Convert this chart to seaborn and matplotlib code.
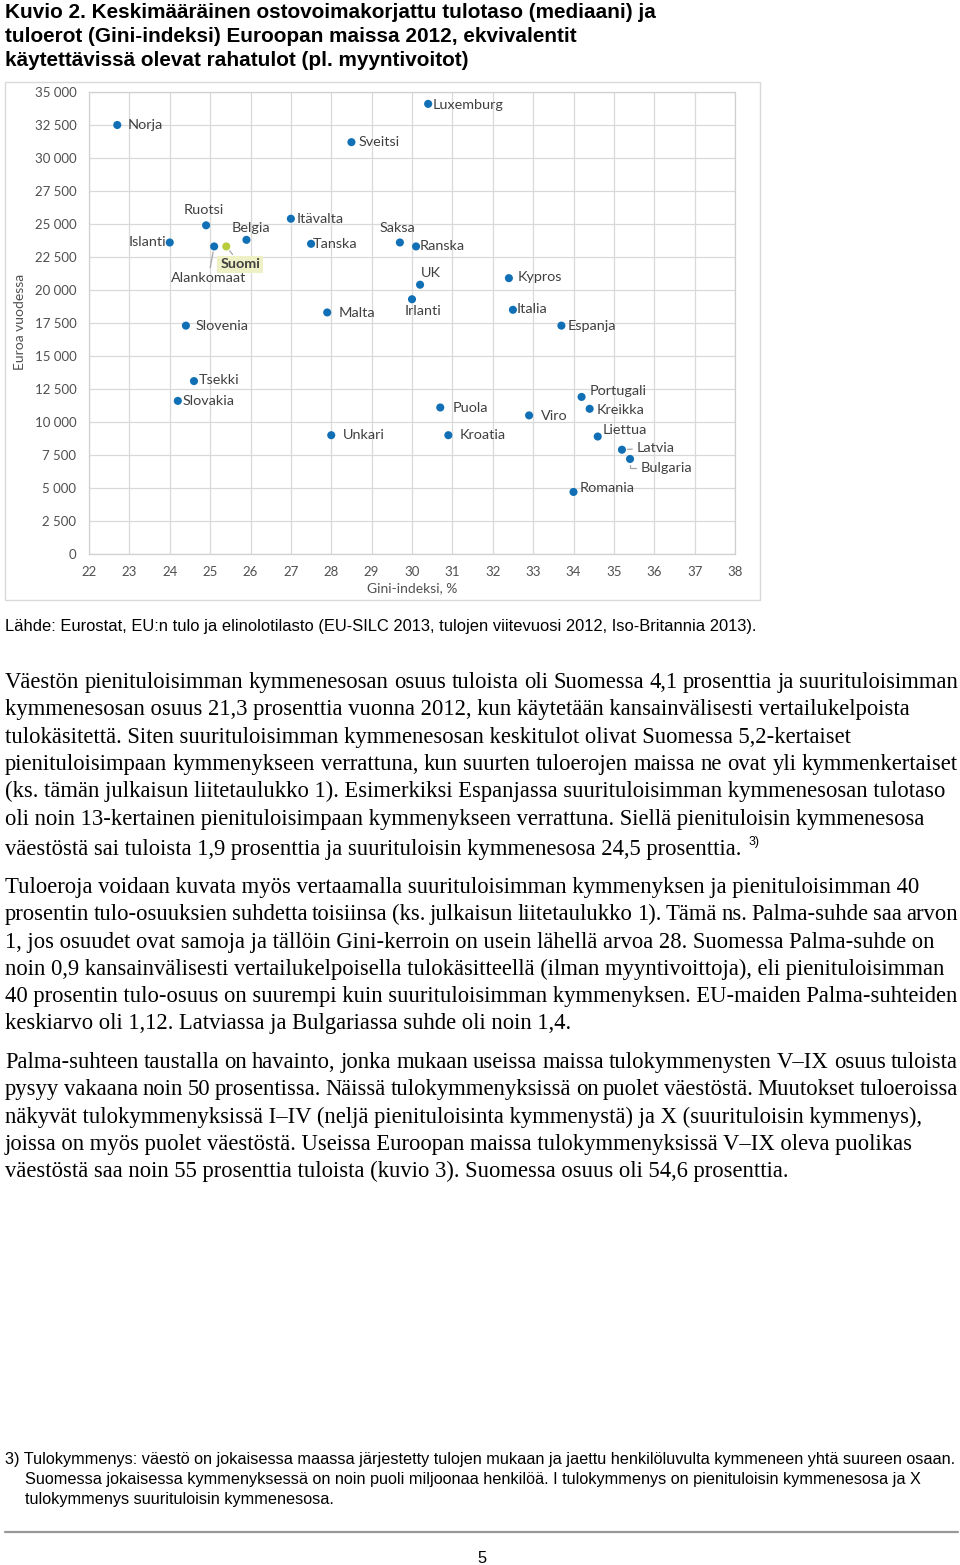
import numpy as np
import pandas as pd
import matplotlib
matplotlib.use("Agg")
import matplotlib.pyplot as plt
import seaborn as sns
from matplotlib.patches import Rectangle
from matplotlib.lines import Line2D
from matplotlib.ticker import FuncFormatter

# ---------------- data ----------------
countries = ["Norja", "Sveitsi", "Luxemburg", "Ruotsi", "Belgia", "Islanti", "Alankomaat",
             "Suomi", "Itävalta", "Tanska", "Saksa", "Ranska", "UK", "Irlanti", "Malta",
             "Kypros", "Italia", "Espanja", "Slovenia", "Tsekki", "Slovakia", "Unkari",
             "Puola", "Kroatia", "Viro", "Portugali", "Kreikka", "Liettua", "Latvia",
             "Bulgaria", "Romania"]
gini = [22.7, 28.5, 30.4, 24.9, 25.9, 24.0, 25.1,
        25.4, 27.0, 27.5, 29.7, 30.1, 30.2, 30.0, 27.9,
        32.4, 32.5, 33.7, 24.4, 24.6, 24.2, 28.0,
        30.7, 30.9, 32.9, 34.2, 34.4, 34.6, 35.2,
        35.4, 34.0]
income = [32500, 31200, 34100, 24900, 23800, 23600, 23300,
          23300, 25400, 23500, 23600, 23300, 20400, 19300, 18300,
          20900, 18500, 17300, 17300, 13100, 11600, 9000,
          11100, 9000, 10500, 11900, 11000, 8900, 7900,
          7200, 4700]
highlight = "Suomi"

x_ticks = list(range(22, 39))
y_ticks = list(range(0, 35001, 2500))
x_label = "Gini-indeksi, %"
y_label = "Euroa vuodessa"

title_lines = ["Kuvio 2. Keskimääräinen ostovoimakorjattu tulotaso (mediaani) ja",
               "tuloerot (Gini-indeksi) Euroopan maissa 2012, ekvivalentit",
               "käytettävissä olevat rahatulot (pl. myyntivoitot)"]
source_text = ("Lähde: Eurostat, EU:n tulo ja elinolotilasto (EU-SILC 2013, tulojen viitevuosi 2012, "
               "Iso-Britannia 2013).")
para1 = ["Väestön pienituloisimman kymmenesosan osuus tuloista oli Suomessa 4,1 prosenttia ja suurituloisimman",
         "kymmenesosan osuus 21,3 prosenttia vuonna 2012, kun käytetään kansainvälisesti vertailukelpoista",
         "tulokäsitettä. Siten suurituloisimman kymmenesosan keskitulot olivat Suomessa 5,2-kertaiset",
         "pienituloisimpaan kymmenykseen verrattuna, kun suurten tuloerojen maissa ne ovat yli kymmenkertaiset",
         "(ks. tämän julkaisun liitetaulukko 1). Esimerkiksi Espanjassa suurituloisimman kymmenesosan tulotaso",
         "oli noin 13-kertainen pienituloisimpaan kymmenykseen verrattuna. Siellä pienituloisin kymmenesosa",
         "väestöstä sai tuloista 1,9 prosenttia ja suurituloisin kymmenesosa 24,5 prosenttia."]
para2 = ["Tuloeroja voidaan kuvata myös vertaamalla suurituloisimman kymmenyksen ja pienituloisimman 40",
         "prosentin tulo-osuuksien suhdetta toisiinsa (ks. julkaisun liitetaulukko 1). Tämä ns. Palma-suhde saa arvon",
         "1, jos osuudet ovat samoja ja tällöin Gini-kerroin on usein lähellä arvoa 28. Suomessa Palma-suhde on",
         "noin 0,9 kansainvälisesti vertailukelpoisella tulokäsitteellä (ilman myyntivoittoja), eli pienituloisimman",
         "40 prosentin tulo-osuus on suurempi kuin suurituloisimman kymmenyksen. EU-maiden Palma-suhteiden",
         "keskiarvo oli 1,12. Latviassa ja Bulgariassa suhde oli noin 1,4."]
para3 = ["Palma-suhteen taustalla on havainto, jonka mukaan useissa maissa tulokymmenysten V–IX osuus tuloista",
         "pysyy vakaana noin 50 prosentissa. Näissä tulokymmenyksissä on puolet väestöstä. Muutokset tuloeroissa",
         "näkyvät tulokymmenyksissä I–IV (neljä pienituloisinta kymmenystä) ja X (suurituloisin kymmenys),",
         "joissa on myös puolet väestöstä. Useissa Euroopan maissa tulokymmenyksissä V–IX oleva puolikas",
         "väestöstä saa noin 55 prosenttia tuloista (kuvio 3). Suomessa osuus oli 54,6 prosenttia."]
footnote = ["3) Tulokymmenys: väestö on jokaisessa maassa järjestetty tulojen mukaan ja jaettu henkilöluvulta kymmeneen yhtä suureen osaan.",
            "Suomessa jokaisessa kymmenyksessä on noin puoli miljoonaa henkilöä. I tulokymmenys on pienituloisin kymmenesosa ja X",
            "tulokymmenys suurituloisin kymmenesosa."]
page_number = "5"

# ---------------- label placement (pixel offsets from point) ----------------
LABEL_POS = {
    "Norja": (10, 0, "left"), "Sveitsi": (7, 0, "left"), "Luxemburg": (4, -1, "left"),
    "Ruotsi": (-2, 15, "center"), "Belgia": (4, 12, "center"), "Islanti": (-3, 0, "right"),
    "Alankomaat": (-6, -32, "center"), "Suomi": (14, -18, "center"),
    "Itävalta": (6, 0, "left"), "Tanska": (2, 0, "left"), "Saksa": (-2, 14, "center"),
    "Ranska": (4, 0, "left"), "UK": (11, 12, "center"), "Irlanti": (11, -12, "center"),
    "Malta": (11, -1, "left"), "Kypros": (9, 1, "left"), "Italia": (4, 1, "left"),
    "Espanja": (6, 0, "left"), "Slovenia": (10, 0, "left"), "Tsekki": (5, 1, "left"),
    "Slovakia": (5, 0, "left"), "Unkari": (12, 0, "left"), "Puola": (12, -1, "left"),
    "Kroatia": (11, 0, "left"), "Viro": (12, -1, "left"), "Portugali": (8, 6, "left"),
    "Kreikka": (7, -1, "left"), "Liettua": (5, 7, "left"), "Latvia": (15, 2, "left"),
    "Bulgaria": (11, -9, "left"), "Romania": (6, 4, "left"),
}
LEADERS = {"Alankomaat": "arc3", "Suomi": "arc3", "Latvia": "arc3",
           "Bulgaria": "angle,angleA=0,angleB=90,rad=0"}

# ---------------- figure ----------------
W, H = 960, 1565
sns.set_style("white")
plt.rcParams["font.family"] = ["Liberation Sans", "DejaVu Sans"]
fig = plt.figure(figsize=(W / 100, H / 100), dpi=100)
renderer = fig.canvas.get_renderer()


def fx(x):
    return x / W


def fy(y):
    return 1 - y / H


def text_width(s, **kw):
    t = fig.text(0, 0, s, **kw)
    w = t.get_window_extent(renderer).width
    t.remove()
    return w


def fit_size(text, family, weight, target_px, base=10.0):
    return base * target_px / text_width(text, fontsize=base, family=family, weight=weight)


def draw_line(x, y_base, line, max_w, **kw):
    """Draw a left-aligned line on a baseline; if too long, tighten word spacing to fit."""
    w = text_width(line, **kw)
    if w <= max_w:
        fig.text(fx(x), fy(y_base), line, ha="left", va="baseline", **kw)
        return w
    words = line.split(" ")
    widths = [text_width(wd, **kw) for wd in words]
    gap = (max_w - sum(widths)) / (len(words) - 1)
    cx = x
    for wd, ww in zip(words, widths):
        fig.text(fx(cx), fy(y_base), wd, ha="left", va="baseline", **kw)
        cx += ww + gap
    return max_w


# chart frame
fig.add_artist(Rectangle((fx(5), fy(600)), fx(760) - fx(5), fy(82) - fy(600),
                         transform=fig.transFigure, fill=False, edgecolor="#d9d9d9", lw=1.0))

ax = fig.add_axes([fx(89), fy(554), fx(735) - fx(89), fy(92) - fy(554)])
df = pd.DataFrame({"maa": countries, "gini": gini, "tulo": income})
df["ryhma"] = np.where(df["maa"] == highlight, "Suomi", "Muut")
sns.scatterplot(data=df, x="gini", y="tulo", hue="ryhma",
                palette={"Muut": "#1170b5", "Suomi": "#b8cc3c"},
                s=34, linewidth=0, legend=False, ax=ax, zorder=3)
ax.set_xlim(22, 38)
ax.set_ylim(0, 35000)
ax.set_xticks(x_ticks)
ax.set_yticks(y_ticks)
ax.yaxis.set_major_formatter(FuncFormatter(lambda v, p: f"{int(v):,}".replace(",", " ")))
ax.grid(True, color="#d9d9d9", lw=0.9)
ax.set_axisbelow(True)
for s in ax.spines.values():
    s.set_color("#d0d0d0")
    s.set_linewidth(0.9)
ax.tick_params(length=0, labelsize=9.5, labelcolor="#505050")
ax.tick_params(axis="y", pad=9)
ax.tick_params(axis="x", pad=9)
for lab in ax.get_xticklabels() + ax.get_yticklabels():
    lab.set_family("Lato")
ax.set_xlabel("")
ax.set_ylabel("")

fig.text(fx(412), fy(588), x_label, ha="center", va="center", family="Lato",
         fontsize=10, color="#505050")
fig.text(fx(20), fy(322), y_label, ha="center", va="center", rotation=90, family="Lato",
         fontsize=10, color="#505050")

for name, gx, gy in zip(countries, gini, income):
    dx, dy, ha = LABEL_POS[name]
    kw = dict(textcoords="offset pixels", ha=ha, va="center", family="Lato",
              fontsize=10.4, color="#404040", zorder=4)
    if name == highlight:
        kw.update(weight="bold", bbox=dict(boxstyle="square,pad=0.2", fc="#eef0c6", ec="none"))
    if name in LEADERS:
        kw["arrowprops"] = dict(arrowstyle="-", color="#a6a6a6", lw=0.9,
                                connectionstyle=LEADERS[name], shrinkA=1, shrinkB=4)
    ax.annotate(name, xy=(gx, gy), xytext=(dx, dy), **kw)

# ---------------- page text ----------------
title_size = fit_size(title_lines[0], "Liberation Sans", "bold", 650)
for i, line in enumerate(title_lines):
    fig.text(fx(5), fy(18 + 24 * i), line, ha="left", va="baseline", family="Liberation Sans",
             weight="bold", fontsize=title_size, color="black")

src_size = fit_size(source_text, "Liberation Sans", "normal", 752)
fig.text(fx(5), fy(631), source_text, ha="left", va="baseline", family="Liberation Sans",
         fontsize=src_size, color="black")

body_size = fit_size(para1[0], "Liberation Serif", "normal", 953)
body_kw = dict(family="Liberation Serif", fontsize=body_size, color="black")
blocks = [(para1, 688), (para2, 893), (para3, 1068)]
for lines, y0 in blocks:
    for i, line in enumerate(lines):
        yy = y0 + 27.3 * i
        if lines is para1 and i == len(lines) - 1:
            yy += 3
        wpx = draw_line(5, yy, line, 953, **body_kw)
        if lines is para1 and i == len(lines) - 1:
            fig.text(fx(5 + wpx + 7), fy(yy - 10), "3)", ha="left", va="baseline",
                     family="Liberation Sans", fontsize=body_size * 0.55, color="black")

fn_size = fit_size(footnote[0], "Liberation Sans", "normal", 953)
for i, line in enumerate(footnote):
    fig.text(fx(5 if i == 0 else 25), fy(1464 + 20 * i), line, ha="left", va="baseline",
             family="Liberation Sans", fontsize=fn_size, color="black")

fig.add_artist(Line2D([fx(5), fx(958)], [fy(1532), fy(1532)], transform=fig.transFigure,
                      color="#999999", lw=1.6))
fig.text(fx(482), fy(1563), page_number, ha="center", va="baseline", family="Liberation Sans",
         fontsize=fn_size, color="black")

fig.savefig("out.png", dpi=100)
